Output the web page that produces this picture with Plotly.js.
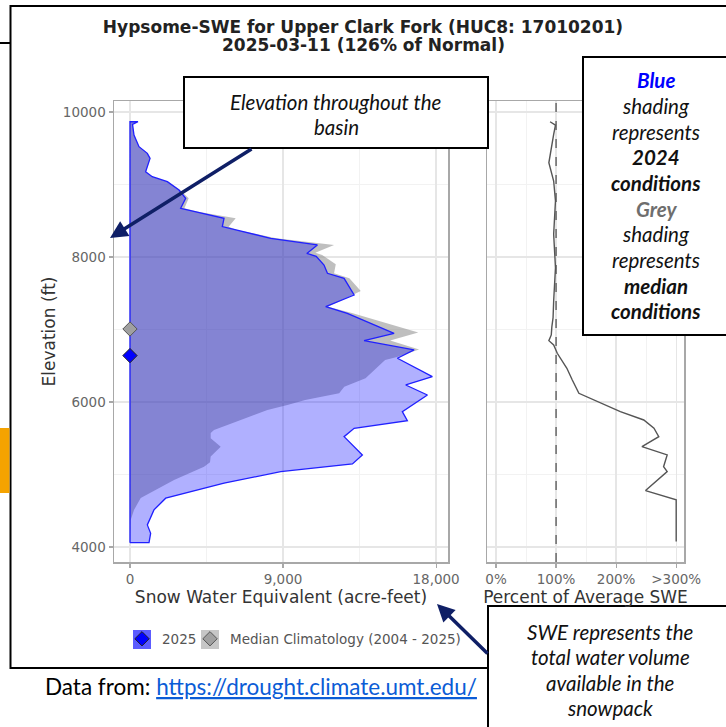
<!DOCTYPE html>
<html>
<head>
<meta charset="utf-8">
<script src="https://cdn.plot.ly/plotly-3.0.1.min.js"></script>
<style>html,body{margin:0;padding:0;background:#fff;}#chart{width:726px;height:727px;}</style>
</head>
<body>
<div id="chart"></div>
<script>
// ---- Data ----
// 2025 SWE by elevation (acre-feet), bottom to top
const elev2025 = [4060,4190,4305,4512,4673,4880,5040,5146,5270,5522,5638,5743,5867,6097,6235,6350,6603,6718,6846,6948,7223,7315,7476,7706,7775,7890,8010,8050,8166,8258,8373,8419,8534,8625,8672,8810,8924,9039,9108,9177,9360,9430,9522,9683,9830,9866];
const swe2025  = [1120,1215,1020,1410,2100,5530,8865,13080,13665,12590,13180,16310,16015,17490,16215,17780,15725,16705,13765,15530,12780,11510,13180,12590,11610,11410,10950,10400,11020,8275,6118,5430,5530,3765,2980,3275,2882,2196,1310,920,1180,1020,530,235,150,470];
// Median climatology SWE by elevation (acre-feet)
const elevMedian = [4060,4374,4512,4677,4925,5108,5170,5248,5384,5500,5573,5614,5752,5890,5960,6028,6120,6212,6327,6488,6580,6620,6725,6850,6960,7223,7315,7530,7706,7775,7900,8028,8060,8166,8258,8373,8419,8534,8625,8672,8810,8924,9039,9108,9177,9360,9430,9522,9683,9830,9866];
const sweMedian  = [0,40,235,630,2590,4353,4706,4745,5335,4745,4745,4940,6510,8080,9255,10300,12300,12600,13850,14600,15000,15700,17000,15300,16950,13100,11650,13570,12900,12000,12100,11300,10900,12000,8600,6300,5800,6215,4000,3200,3450,2950,2250,1330,930,1190,1030,540,240,150,470];
// Percent of average SWE by elevation (capped at 300)
const pctElev = [4075,4650,4778,5040,5108,5270,5384,5522,5638,5752,5867,6005,6120,6304,6465,6672,6786,6846,6925,7040,7163,7394,7853,8313,8773,9048,9300,9690,9820,9866];
const pctSWE  = [300,300,249,285,279,285,243,271,263,246,207,168,138,127,118,102,96,88,92,93,95,96,99,96,99,96,88,96,99,90];
// Median elevation of SWE (markers)
const medianElev2025 = 6640;
const medianElevClim = 7007;
// Tick labels
const yTicks = [4000,6000,8000,10000];
const yMinor = [5000,7000,9000];
const xTicks = [0,9000,18000];
const xMinor = [4500,13500];
const pctTicks = [0,100,200,300];
const pctTickText = ['0%','100%','200%','>300%'];
const pctMinor = [50,150,250];
const seriesNames = ['2025','Median Climatology (2004 - 2025)'];

// ---- helpers (pixel -> paper) ----
const W = 726, H = 727;
const px = x => x / W;
const py = y => 1 - y / H;

function polygon(xs, ys) {
  const n = ys.length;
  return {
    x: [0].concat(xs, [0, 0]),
    y: [ys[0]].concat(ys, [ys[n - 1], ys[0]])
  };
}
const polyMed = polygon(sweMedian, elevMedian);
const poly25 = polygon(swe2025, elev2025);

const tickFont = {family: 'DejaVu Sans', size: 13.5, color: '#666'};
const titleFont = {family: 'DejaVu Sans', size: 17, color: '#333'};

const traces = [
  {x: polyMed.x, y: polyMed.y, type: 'scatter', mode: 'lines', fill: 'toself',
   fillcolor: 'rgba(128,128,128,0.5)', line: {width: 0}, showlegend: false, hoverinfo: 'skip'},
  {x: poly25.x, y: poly25.y, type: 'scatter', mode: 'lines', fill: 'toself',
   fillcolor: 'rgba(0,0,255,0.31)', line: {color: '#2020ff', width: 1.3}, showlegend: false, hoverinfo: 'skip'},
  {x: [0], y: [medianElevClim], type: 'scatter', mode: 'markers', name: seriesNames[1], legend: 'legend2',
   marker: {symbol: 'diamond', size: 11, color: '#a0a0a0', line: {color: '#555', width: 1}}},
  {x: [0], y: [medianElev2025], type: 'scatter', mode: 'markers', name: seriesNames[0], legend: 'legend',
   marker: {symbol: 'diamond', size: 11, color: '#0000ff', line: {color: '#222', width: 1}}},
  {x: pctSWE, y: pctElev, type: 'scatter', mode: 'lines', xaxis: 'x2', yaxis: 'y2',
   line: {color: '#555', width: 1.4}, showlegend: false, hoverinfo: 'skip'}
];

const gridMajor = '#e6e6e6', gridMinor = '#f2f2f2', frame = '#a8a8a8';

const calloutFont = {family: 'Lato', size: 20.5, color: '#111'};
const box2Lines = [
  ['<b><i>Blue</i></b>', 80, '#0000ff'],
  ['<i>shading</i>', 106, '#111'],
  ['<i>represents</i>', 131.5, '#111'],
  ['<b><i>2024</i></b>', 157, '#111'],
  ['<b><i>conditions</i></b>', 183, '#111'],
  ['<b><i>Grey</i></b>', 209, '#6e6e6e'],
  ['<i>shading</i>', 234, '#111'],
  ['<i>represents</i>', 260, '#111'],
  ['<b><i>median</i></b>', 285.5, '#111'],
  ['<b><i>conditions</i></b>', 311, '#111']
];
const box3Lines = [
  ['<i>SWE represents the</i>', 632],
  ['<i>total water volume</i>', 657],
  ['<i>available in the</i>', 682.5],
  ['<i>snowpack</i>', 708]
];

const annotations = [
  {text: '<b>2025-03-11 (126% of Normal)</b>', xref: 'paper', yref: 'paper', x: 0.5, y: py(45),
   xanchor: 'center', yanchor: 'middle', showarrow: false, font: {family: 'DejaVu Sans', size: 17, color: '#222'}},
  {text: '<i>Elevation throughout the</i>', xref: 'paper', yref: 'paper', x: px(336), y: py(102),
   xanchor: 'center', yanchor: 'middle', showarrow: false, font: calloutFont},
  {text: '<i>basin</i>', xref: 'paper', yref: 'paper', x: px(336), y: py(127),
   xanchor: 'center', yanchor: 'middle', showarrow: false, font: calloutFont},
  // arrows
  {text: '', xref: 'paper', yref: 'paper', x: px(110), y: py(238), axref: 'pixel', ayref: 'pixel',
   ax: 143, ay: -90, showarrow: true, arrowhead: 2, arrowsize: 1, arrowwidth: 3.5, arrowcolor: '#0f1f66'},
  {text: '', xref: 'paper', yref: 'paper', x: px(437), y: py(604), axref: 'pixel', ayref: 'pixel',
   ax: 52, ay: 51, showarrow: true, arrowhead: 2, arrowsize: 1, arrowwidth: 3.5, arrowcolor: '#0f1f66'},
  {text: 'Data from: <a href="https://drought.climate.umt.edu/" style="color:#0b5cd6;text-decoration:underline">https://drought.climate.umt.edu/</a>',
   xref: 'paper', yref: 'paper', x: px(43), y: py(686), xanchor: 'left', yanchor: 'middle', showarrow: false,
   font: {family: 'Lato', size: 22.5, color: '#000'}}
];
box2Lines.forEach(l => annotations.push({text: l[0], xref: 'paper', yref: 'paper', x: px(656), y: py(l[1]),
  xanchor: 'center', yanchor: 'middle', showarrow: false, font: Object.assign({}, calloutFont, {color: l[2]})}));
box3Lines.forEach(l => annotations.push({text: l[0], xref: 'paper', yref: 'paper', x: px(610), y: py(l[1]),
  xanchor: 'center', yanchor: 'middle', showarrow: false, font: calloutFont}));

const shapes = [
  // outer frame of the slide figure
  {type: 'rect', xref: 'paper', yref: 'paper', x0: px(10.5), x1: px(760), y0: py(668), y1: py(6), line: {color: '#000', width: 2}, layer: 'above'},
  {type: 'line', xref: 'paper', yref: 'paper', x0: 0, x1: px(10), y0: py(43), y1: py(43), line: {color: '#000', width: 2}},
  {type: 'rect', xref: 'paper', yref: 'paper', x0: 0, x1: px(9.5), y0: py(493), y1: py(428), fillcolor: '#f5a300', line: {width: 0}},
  // dashed 100% line
  {type: 'line', xref: 'x2', yref: 'y2 domain', x0: 100, x1: 100, y0: 0, y1: 1, line: {color: '#555', width: 1.3, dash: 'dash'}},
  // legend key backgrounds
  {type: 'rect', xref: 'paper', yref: 'paper', x0: px(133), x1: px(151), y0: py(649), y1: py(630), fillcolor: '#5c5cff', line: {width: 0}, layer: 'below'},
  {type: 'rect', xref: 'paper', yref: 'paper', x0: px(201), x1: px(219), y0: py(649), y1: py(630), fillcolor: '#c6c6c6', line: {width: 0}, layer: 'below'},
  // callout boxes
  {type: 'rect', xref: 'paper', yref: 'paper', x0: px(184), x1: px(488), y0: py(148), y1: py(77), fillcolor: '#fff', line: {color: '#000', width: 2}, layer: 'above'},
  {type: 'rect', xref: 'paper', yref: 'paper', x0: px(583), x1: px(760), y0: py(335), y1: py(57), fillcolor: '#fff', line: {color: '#000', width: 2}, layer: 'above'},
  {type: 'rect', xref: 'paper', yref: 'paper', x0: px(488), x1: px(760), y0: py(760), y1: py(606), fillcolor: '#fff', line: {color: '#000', width: 2}, layer: 'above'}
];

const layout = {
  width: W, height: H,
  margin: {l: 0, r: 0, t: 0, b: 0},
  paper_bgcolor: '#fff', plot_bgcolor: '#fff',
  title: {text: '<b>Hypsome-SWE for Upper Clark Fork (HUC8: 17010201)</b>', x: 0.5, xanchor: 'center',
          y: py(27), yanchor: 'middle', font: {family: 'DejaVu Sans', size: 17, color: '#222'}},
  showlegend: true,
  legend: {orientation: 'h', x: px(122), y: py(639), xanchor: 'left', yanchor: 'middle',
           font: {family: 'DejaVu Sans', size: 13.5, color: '#555'}, bgcolor: 'rgba(0,0,0,0)'},
  legend2: {orientation: 'h', x: px(190), y: py(639), xanchor: 'left', yanchor: 'middle',
           font: {family: 'DejaVu Sans', size: 13.5, color: '#555'}, bgcolor: 'rgba(0,0,0,0)'},
  xaxis: {domain: [px(114), px(448)], range: [-940, 18700], anchor: 'y',
          tickvals: xTicks, tickformat: ',d', ticks: 'outside', ticklen: 4, tickcolor: frame, tickwidth: 1.2,
          showgrid: true, gridcolor: gridMajor, gridwidth: 1.3, zeroline: false,
          minor: {tickvals: xMinor, showgrid: true, gridcolor: gridMinor, gridwidth: 1, ticks: ''},
          showline: true, mirror: true, linecolor: frame, linewidth: 1.5,
          tickfont: tickFont, automargin: false,
          title: {text: 'Snow Water Equivalent (acre-feet)', font: titleFont, standoff: 0}},
  yaxis: {domain: [py(562), py(101)], range: [3793, 10152], anchor: 'x',
          tickvals: yTicks, tickformat: 'd', ticks: 'outside', ticklen: 4, tickcolor: frame, tickwidth: 1.2,
          showgrid: true, gridcolor: gridMajor, gridwidth: 1.3, zeroline: false,
          minor: {tickvals: yMinor, showgrid: true, gridcolor: gridMinor, gridwidth: 1, ticks: ''},
          showline: true, mirror: true, linecolor: frame, linewidth: 1.5,
          tickfont: tickFont, automargin: false,
          title: {text: 'Elevation (ft)', font: titleFont, standoff: 3}},
  xaxis2: {domain: [px(487), px(684)], range: [-15, 313], anchor: 'y2',
          tickvals: pctTicks, ticktext: pctTickText, ticks: 'outside', ticklen: 4, tickcolor: frame, tickwidth: 1.2,
          showgrid: true, gridcolor: gridMajor, gridwidth: 1.3, zeroline: false,
          minor: {tickvals: pctMinor, showgrid: true, gridcolor: gridMinor, gridwidth: 1, ticks: ''},
          showline: true, mirror: true, linecolor: frame, linewidth: 1.5,
          tickfont: tickFont, automargin: false,
          title: {text: 'Percent of Average SWE', font: titleFont, standoff: 0}},
  yaxis2: {domain: [py(562), py(101)], range: [3793, 10152], anchor: 'x2', matches: 'y',
          tickvals: yTicks, showticklabels: false, ticks: '',
          showgrid: true, gridcolor: gridMajor, gridwidth: 1.3, zeroline: false,
          minor: {tickvals: yMinor, showgrid: true, gridcolor: gridMinor, gridwidth: 1, ticks: ''},
          showline: true, mirror: true, linecolor: frame, linewidth: 1.5, automargin: false},
  shapes: shapes,
  annotations: annotations
};

Plotly.newPlot('chart', traces, layout, {staticPlot: true, displayModeBar: false});
</script>
</body>
</html>
